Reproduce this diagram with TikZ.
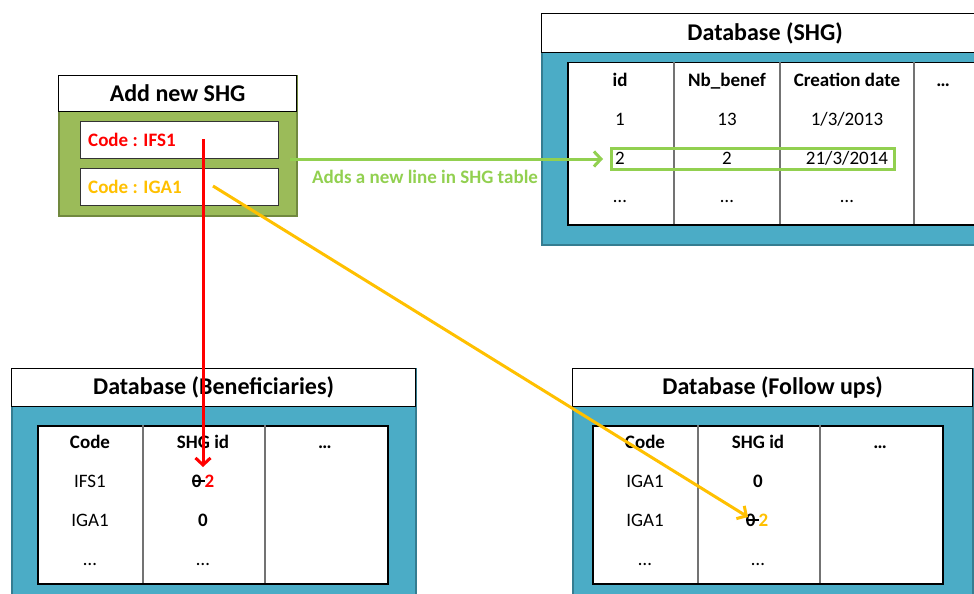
\documentclass[tikz,border=0pt]{standalone}
\usepackage{fontspec}
\setmainfont{Carlito}
\usetikzlibrary{arrows.meta}
\usetikzlibrary{positioning}
\definecolor{shggreen}{HTML}{9BBB59}
\definecolor{shggreendark}{HTML}{71893F}
\definecolor{dbblue}{HTML}{4BACC6}
\definecolor{dbbluedark}{HTML}{357D91}
\definecolor{linegreen}{HTML}{92D050}
\definecolor{codeorange}{HTML}{FFC000}
\tikzstyle{panel}=[draw,line width=1.5pt,anchor=north west,inner sep=0pt]
\tikzstyle{titleband}=[draw=black,fill=white,line width=1.2pt,anchor=north west,inner sep=0pt,font=\fontsize{24}{28}\selectfont\bfseries]
\tikzstyle{tablebox}=[draw=black,fill=white,line width=1.5pt,anchor=north west,inner sep=0pt]
\tikzstyle{codebox}=[draw=black!80,fill=white,line width=1pt,anchor=north west,inner sep=0pt,minimum width=198pt,minimum height=37pt]
\tikzstyle{colline}=[draw,black!55,line width=1.5pt]
\tikzstyle{cell}=[inner sep=1pt,yshift=-4pt,text height=1.5ex,text depth=.25ex,font=\fontsize{19}{23}\selectfont]
\tikzstyle{headcell}=[cell,font=\fontsize{19}{23}\selectfont\bfseries]
\tikzstyle{codetext}=[inner sep=1pt,font=\fontsize{19}{23}\selectfont\bfseries]
\tikzstyle{link}=[draw,line width=3pt,-{Straight Barb[length=7pt,width=15pt]}]
\newcommand{\struck}[1]{\setbox0\hbox{#1}\rlap{\rule[.3em]{\wd0}{.1em}}\box0}

\begin{document}
\begin{tikzpicture}[x=1pt,y=-1pt]
    \useasboundingbox (0,0) rectangle (974,594);
    % Form for the new SHG
    \node[panel,draw=shggreendark,fill=shggreen,minimum width=238pt,minimum height=140pt] (addbox) at (58,75) {};
    \node[titleband,minimum width=238pt,minimum height=36pt] (addtitle) at (58,75) {Add new SHG};
    \node[codebox] (ifsbox) at (80,121) {};
    \node[codebox] (igabox) at (80,168) {};
    \node[codetext,text=red,right=7pt of ifsbox.west] (ifs) {Code : IFS1};
    \node[codetext,text=codeorange,right=7pt of igabox.west] (iga) {Code : IGA1};

    % Database (SHG)
    \node[panel,draw=dbbluedark,fill=dbblue,minimum width=447pt,minimum height=231pt] (shgdb) at (541,13) {};
    \node[titleband,minimum width=447pt,minimum height=39pt] (shgtitle) at (541,13) {Database (SHG)};
    \node[tablebox,minimum width=425pt,minimum height=162pt] (shgtable) at (567,62) {};
    \foreach \x in {674,780,914}
        \path[colline] (\x,62) -- (\x,224);
    \foreach \pos/\name/\label in {{(620,80)/shgid/id}, {(727,80)/shgnb/Nb\_benef}, {(847,80)/shgdate/Creation date}, {(943,80)/shgmore/…}}
        \node[headcell] (\name) at \pos {\label};
    \foreach \pos/\name/\label in {{(620,119)/ida/1}, {(727,119)/nba/13}, {(847,119)/datea/{1/3/2013}}, {(620,158)/idb/2}, {(727,158)/nbb/2}, {(847,158)/dateb/{21/3/2014}}, {(620,196)/idc/…}, {(727,196)/nbc/…}, {(847,196)/datec/…}}
        \node[cell] (\name) at \pos {\label};
    \node[draw=linegreen,line width=3pt,anchor=north west,inner sep=0pt,minimum width=283pt,minimum height=21pt] (newrow) at (610,147) {};

    % Database (Beneficiaries)
    \node[panel,draw=dbbluedark,fill=dbblue,minimum width=404pt,minimum height=240pt] (bendb) at (11,368) {};
    \node[titleband,minimum width=404pt,minimum height=38pt] (bentitle) at (11,368) {Database (Beneficiaries)};
    \node[tablebox,minimum width=350pt,minimum height=158pt] (bentable) at (37,425) {};
    \foreach \x in {143,265}
        \path[colline] (\x,425) -- (\x,583);
    \foreach \pos/\name/\label in {{(90,442)/bencode/Code}, {(203,442)/benshg/SHG id}, {(325,442)/benmore/…}}
        \node[headcell] (\name) at \pos {\label};
    \foreach \pos/\name/\label in {{(90,481)/benifs/IFS1}, {(90,520)/beniga/IGA1}, {(90,559)/bendots/…}, {(203,559)/benshgdots/…}}
        \node[cell] (\name) at \pos {\label};
    \node[headcell] (benifsid) at (203,481) {\struck{0\,}\textcolor{red}{2}};
    \node[headcell] (benigaid) at (203,520) {0};

    % Database (Follow ups)
    \node[panel,draw=dbbluedark,fill=dbblue,minimum width=400pt,minimum height=240pt] (fudb) at (572,368) {};
    \node[titleband,minimum width=400pt,minimum height=38pt] (futitle) at (572,368) {Database (Follow ups)};
    \node[tablebox,minimum width=350pt,minimum height=158pt] (futable) at (592,425) {};
    \foreach \x in {698,820}
        \path[colline] (\x,425) -- (\x,583);
    \foreach \pos/\name/\label in {{(645,442)/fucode/Code}, {(758,442)/fushg/SHG id}, {(880,442)/fumore/…}}
        \node[headcell] (\name) at \pos {\label};
    \foreach \pos/\name/\label in {{(645,481)/fuigaa/IGA1}, {(645,520)/fuigab/IGA1}, {(645,559)/fudots/…}, {(758,559)/fushgdots/…}}
        \node[cell] (\name) at \pos {\label};
    \node[headcell] (fuidb) at (758,481) {0};
    \node[headcell] (fuida) at (757,520) {\struck{0\,}\textcolor{codeorange}{2}};

    % Links between form and tables
    \coordinate (ifsstart) at (203,139);
    \coordinate (ifsend) at (203,467);
    \coordinate (igastart) at (213,186);
    \coordinate (igaend) at (748,517);
    \path[link,linegreen] ([xshift=-8pt]addbox.east |- newrow.west) -- ([xshift=-7pt]newrow.west);
    \node[codetext,text=linegreen,anchor=west] (addnote) at (311,177) {Adds a new line in SHG table};
    \path[link,red] (ifsstart) -- (ifsend);
    \path[link,codeorange] (igastart) -- (igaend);
\end{tikzpicture}
\end{document}
